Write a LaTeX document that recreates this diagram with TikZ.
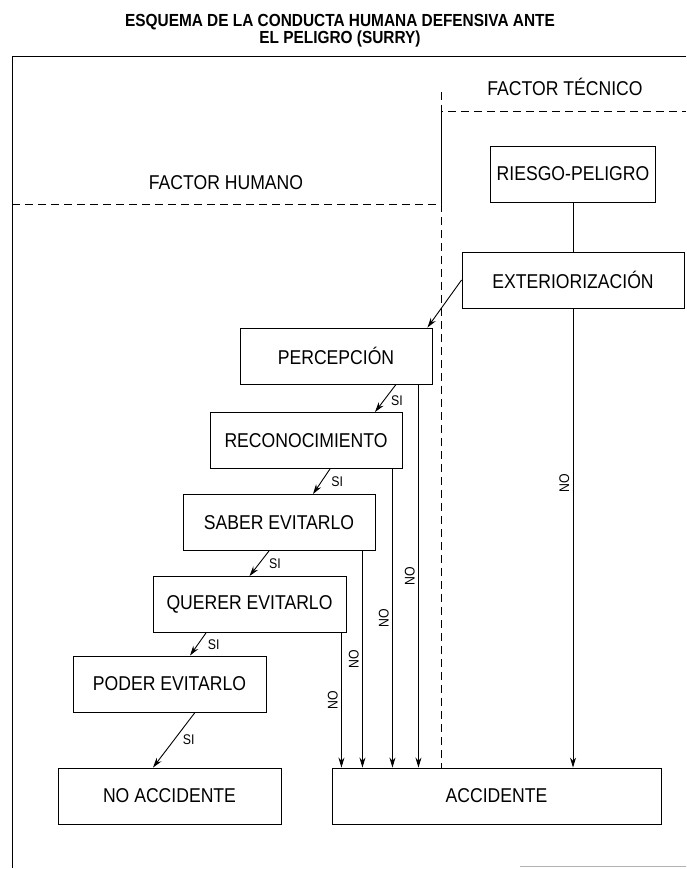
\documentclass[tikz,border=0pt]{standalone}
\usepackage{fontspec}
\setmainfont{Liberation Sans}[FakeStretch=0.88]
\usetikzlibrary{arrows.meta}
\begin{document}
\begin{tikzpicture}[x=1pt, y=-1pt, line width=0.9pt,
    font=\fontsize{20}{22}\selectfont,
    box/.style={draw, minimum height=56pt, inner sep=0pt},
    arrow/.style={-{Stealth[length=10pt, width=6pt]}},
    divide/.style={dash pattern=on 8pt off 5pt},
    lbl/.style={font=\fontsize{14}{15}\selectfont}]
  \useasboundingbox (0,0) rectangle (686,869);
  \node[font=\bfseries\fontsize{17.5}{17}\selectfont, align=center] (title) at (340,31)
    {ESQUEMA DE LA CONDUCTA HUMANA DEFENSIVA ANTE\\EL PELIGRO (SURRY)};
  % frame and the two fields
  \draw (686,56) -- (12,56) -- (12,868);
  \draw[gray!60, line width=0.6pt] (520,866) -- (686,866);
  \draw[divide] (441,92) -- (441,111) -- (686,111);
  \draw (441,111) -- (441,204);
  \draw[divide] (12,204) -- (441,204) -- (441,768);
  \node (tecnico) at (565,87) {FACTOR TÉCNICO};
  \node (humano) at (226,183) {FACTOR HUMANO};
  % steps
  \node[box, minimum width=165pt] (riesgo) at (573,174) {RIESGO-PELIGRO};
  \node[box, minimum width=222pt] (exter) at (573,280) {EXTERIORIZACIÓN};
  \node[box, minimum width=192pt] (percep) at (336,356) {PERCEPCIÓN};
  \node[box, minimum width=192pt] (recon) at (306,440.5) {RECONOCIMIENTO};
  \node[box, minimum width=192pt] (saber) at (279,522.5) {SABER EVITARLO};
  \node[box, minimum width=193pt] (querer) at (249.5,604.5) {QUERER EVITARLO};
  \node[box, minimum width=193pt] (poder) at (169.5,684) {PODER EVITARLO};
  \node[box, minimum width=223pt] (noacc) at (169.5,796) {NO ACCIDENTE};
  \node[box, minimum width=329pt] (acc) at (496.5,796) {ACCIDENTE};
  % yes path
  \draw (riesgo) -- (exter);
  \draw[arrow] (exter.west) -- ([xshift=-5pt]percep.north east);
  \draw[arrow] ([xshift=60pt]percep.south) -- ([xshift=69pt]recon.north)
    node[lbl, pos=.6, right=4pt] {SI};
  \draw[arrow] ([xshift=24pt]recon.south) -- ([xshift=34pt]saber.north)
    node[lbl, midway, right=6pt] {SI};
  \draw[arrow] ([xshift=-10pt]saber.south) -- (querer.north)
    node[lbl, midway, right=6pt] {SI};
  \draw[arrow] ([xshift=-43.5pt]querer.south) -- ([xshift=20.5pt]poder.north)
    node[lbl, midway, right=6pt] {SI};
  \draw[arrow] ([xshift=25.5pt]poder.south) -- ([xshift=-16.5pt]noacc.north)
    node[lbl, midway, right=5pt] {SI};
  % no path
  \draw[arrow] (exter) -- (exter |- acc.north)
    node[lbl, pos=.38, rotate=90, anchor=south] {NO};
  \draw[arrow] ([xshift=-14pt]percep.south east) -- ([xshift=-14pt]percep.south east |- acc.north)
    node[lbl, midway, rotate=90, anchor=south] {NO};
  \draw[arrow] ([xshift=-10pt]recon.south east) -- ([xshift=-10pt]recon.south east |- acc.north)
    node[lbl, midway, rotate=90, anchor=south] {NO};
  \draw[arrow] ([xshift=-13pt]saber.south east) -- ([xshift=-13pt]saber.south east |- acc.north)
    node[lbl, midway, rotate=90, anchor=south] {NO};
  \draw[arrow] ([xshift=-5pt]querer.south east) -- ([xshift=-5pt]querer.south east |- acc.north)
    node[lbl, midway, rotate=90, anchor=south] {NO};
\end{tikzpicture}
\end{document}
